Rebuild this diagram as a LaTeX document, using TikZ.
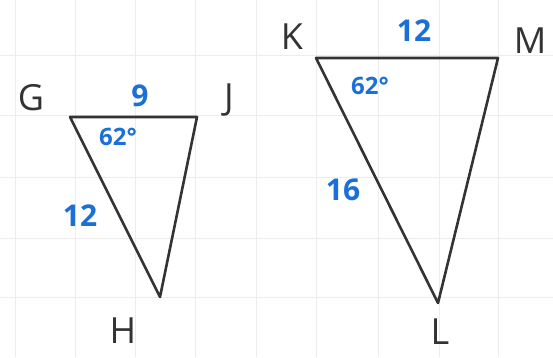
\documentclass[tikz,border=0pt]{standalone}
\usepackage{fontspec}
\setmainfont{Open Sans}
\usepackage{tikz}
\definecolor{ink}{HTML}{333333}
\definecolor{penblue}{HTML}{1b6fd6}
\definecolor{gridgrey}{HTML}{ececec}
\tikzset{
  gridline/.style = {draw=gridgrey, line width=1pt},
  side/.style     = {draw=ink, line width=2.6pt, line join=round, line cap=round},
  vlbl/.style     = {font=\fontsize{36}{36}\selectfont, text=ink, inner sep=0pt},
  mlbl/.style     = {font=\bfseries\fontsize{30}{30}\selectfont, text=penblue, inner sep=0pt},
  albl/.style     = {font=\bfseries\fontsize{24}{24}\selectfont, text=penblue, inner sep=0pt},
}

\begin{document}
\begin{tikzpicture}[x=1pt,y=-1pt]
    \useasboundingbox (0,0) rectangle (553,357);
    % grid paper
    \foreach \gx in {15,75,135,195,256,316,378,439,498}
      \draw[gridline] (\gx,0) -- (\gx,357);
    \foreach \gy in {55,115,177,238,297}
      \draw[gridline] (0,\gy) -- (553,\gy);

    % small triangle GJH
    \coordinate (G) at (70,117);
    \coordinate (J) at (197,117);
    \coordinate (H) at (160,297);
    \draw[side] (G) -- (J) -- (H) -- cycle;

    % large triangle KML
    \coordinate (K) at (316,58);
    \coordinate (M) at (498,58);
    \coordinate (L) at (438,303);
    \draw[side] (K) -- (M) -- (L) -- cycle;

    % vertex letters
    \node[vlbl] (lG) at (31,98)  {G};
    \node[vlbl] (lJ) at (229,100) {J};
    \node[vlbl] (lH) at (123,331) {H};
    \node[vlbl] (lK) at (292,37)  {K};
    \node[vlbl] (lM) at (530,41)  {M};
    \node[vlbl] (lL) at (440,332) {L};

    % measures
    \node[mlbl] (m9)  at (140,96)  {9};
    \node[mlbl] (m12) at (80,216)  {12};
    \node[albl] (a1)  at (118,137) {62°};
    \node[mlbl] (m12b) at (414,31) {12};
    \node[mlbl] (m16) at (343,190) {16};
    \node[albl] (a2)  at (370,86)  {62°};
  \end{tikzpicture}
\end{document}
